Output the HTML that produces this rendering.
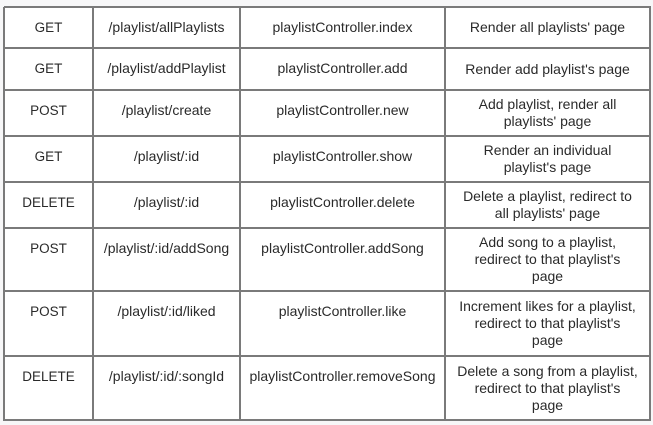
<!DOCTYPE html>
<html><head><style>
body{margin:0;width:653px;height:425px;background:#f7f7f8;position:relative;overflow:hidden;font-family:"Liberation Sans",sans-serif;font-size:14px;color:#2a2a2a}
.t{position:absolute;left:4px;top:7px;width:646px;height:413px;background:#fff}
.h,.v{position:absolute;background:#7a7a7a}
.h{left:4px;width:647px;height:2px}
.v{top:7px;height:414px;width:2px}
.c{position:absolute;text-align:center;line-height:17px}
</style></head><body>
<div class="t"></div>
<div id="g"></div>
<script>
var rows=[7,48,90,136,182,228,291,356,420];
var cols=[4,93,240,445,650];
var data=[
["GET","/playlist/allPlaylists","playlistController.index","Render all playlists' page"],
["GET","/playlist/addPlaylist","playlistController.add","Render add playlist's page"],
["POST","/playlist/create","playlistController.new","Add playlist, render all<br>playlists' page"],
["GET","/playlist/:id","playlistController.show","Render an individual<br>playlist's page"],
["DELETE","/playlist/:id","playlistController.delete","Delete a playlist, redirect to<br>all playlists' page"],
["POST","/playlist/:id/addSong","playlistController.addSong","Add song to a playlist,<br>redirect to that playlist's<br>page"],
["POST","/playlist/:id/liked","playlistController.like","Increment likes for a playlist,<br>redirect to that playlist's<br>page"],
["DELETE","/playlist/:id/:songId","playlistController.removeSong","Delete a song from a playlist,<br>redirect to that playlist's<br>page"]];
var h="";
rows.forEach(function(y){h+='<div class="h" style="top:'+(y-1)+'px"></div>';});
cols.forEach(function(x){h+='<div class="v" style="left:'+(x-1)+'px"></div>';});
data.forEach(function(r,i){
 var top=rows[i],bot=rows[i+1];
 for(var j=0;j<4;j++){
  var l=cols[j],w=cols[j+1]-l;
  var n=(r[j].match(/<br>/g)||[]).length+1;
  var t=(j<3)?top+12:Math.round((top+bot)/2-n*17/2);
  var fs=(j==0)?'font-size:13.5px;':'';
  h+='<div class="c" style="'+fs+'left:'+l+'px;width:'+w+'px;top:'+t+'px">'+r[j]+'</div>';
 }
});
document.getElementById("g").innerHTML=h;
</script>
</body></html>
